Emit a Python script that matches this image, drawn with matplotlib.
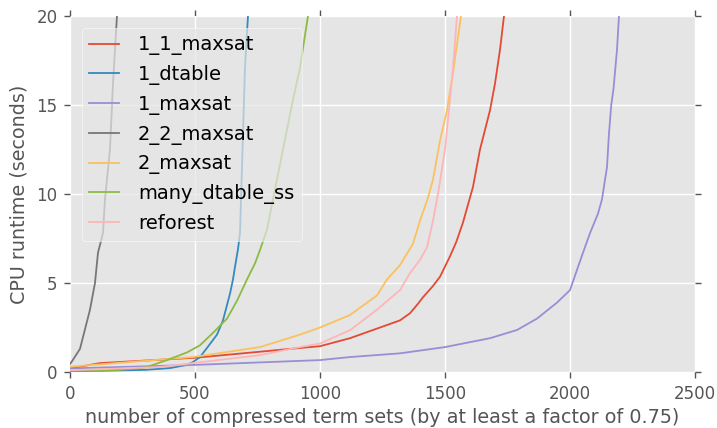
import numpy as np
import matplotlib
matplotlib.use("Agg")
import matplotlib.pyplot as plt

plt.style.use('ggplot')

names = ['1_1_maxsat', '1_dtable', '1_maxsat', '2_2_maxsat',
         '2_maxsat', 'many_dtable_ss', 'reforest']

# cactus curves: x = count, y = seconds
x_11maxsat = [0, 120, 500, 920, 1000, 1120, 1240, 1320, 1360, 1390, 1412, 1450,
              1480, 1520, 1545, 1572, 1612, 1640, 1680, 1700, 1720, 1736, 1745]
y_11maxsat = [0.2, 0.5, 0.8, 1.35, 1.45, 1.9, 2.5, 2.9, 3.3, 3.8, 4.2, 4.8,
              5.35, 6.5, 7.3, 8.4, 10.4, 12.5, 14.7, 16.2, 18.1, 20.0, 21.0]

x_dtable = [0, 160, 300, 400, 468, 492, 520, 548, 588, 612, 628, 640, 652,
            660, 672, 680, 688, 700, 712, 716]
y_dtable = [0.05, 0.08, 0.12, 0.22, 0.4, 0.56, 0.84, 1.35, 2.1, 2.9, 3.76, 4.4, 5.2,
            5.9, 6.9, 7.8, 11.5, 17.1, 20.0, 21.0]

x_1maxsat = [0, 500, 1000, 1120, 1320, 1500, 1680, 1788, 1868, 1948, 2000,
             2032, 2052, 2080, 2112, 2128, 2140, 2148, 2156, 2165, 2174,
             2188, 2196, 2200]
y_1maxsat = [0.2, 0.4, 0.67, 0.84, 1.05, 1.4, 1.9, 2.36, 3.0, 3.9, 4.6,
             5.9, 6.7, 7.8, 8.9, 9.7, 10.8, 11.5, 13.4, 15.0, 15.9,
             18.1, 20.0, 21.0]

x_22maxsat = [0, 8, 40, 60, 80, 100, 112, 132, 140, 160, 172, 188, 192]
y_22maxsat = [0.45, 0.6, 1.3, 2.4, 3.5, 5.0, 6.7, 7.8, 9.7, 12.5, 16.2, 20.0, 21.0]

x_2maxsat = [0, 92, 492, 760, 920, 1000, 1120, 1228, 1268, 1320, 1372, 1400,
             1430, 1452, 1480, 1508, 1532, 1564, 1570]
y_2maxsat = [0.3, 0.4, 0.84, 1.4, 2.1, 2.5, 3.2, 4.3, 5.2, 6.0, 7.2, 8.5,
             9.7, 10.8, 13.0, 14.7, 16.8, 20.0, 21.0]

x_many = [0, 200, 300, 332, 388, 468, 520, 572, 628, 668, 708, 740, 760, 788,
          812, 852, 892, 920, 952, 960]
y_many = [0.07, 0.12, 0.25, 0.4, 0.67, 1.1, 1.5, 2.2, 3.0, 4.0, 5.2, 6.1, 6.85, 8.0,
          9.7, 12.5, 15.3, 17.1, 20.0, 21.0]

x_reforest = [0, 360, 760, 920, 1000, 1120, 1228, 1320, 1360, 1400, 1428,
              1452, 1472, 1500, 1520, 1532, 1548, 1552]
y_reforest = [0.1, 0.28, 0.95, 1.4, 1.6, 2.35, 3.5, 4.6, 5.55, 6.3, 7.0,
              8.5, 10.0, 12.5, 15.3, 17.1, 20.0, 21.0]

series = [(x_11maxsat, y_11maxsat), (x_dtable, y_dtable), (x_1maxsat, y_1maxsat),
          (x_22maxsat, y_22maxsat), (x_2maxsat, y_2maxsat), (x_many, y_many),
          (x_reforest, y_reforest)]

fig = plt.figure(figsize=(7.17, 4.28), dpi=100)
ax = fig.add_axes([0.0976, 0.1308, 0.8717, 0.8318])

for name, (xs, ys) in zip(names, series):
    ax.plot(np.array(xs), np.array(ys), label=name, linewidth=1.3)

ax.set_xlim(0, 2500)
ax.set_ylim(0, 20)
ax.set_xticks([0, 500, 1000, 1500, 2000, 2500])
ax.set_yticks([0, 5, 10, 15, 20])
ax.tick_params(direction='out', top=True, right=True, length=4, width=1,
               colors='#555555', labelsize=12, pad=5)
ax.grid(True, color='white', linewidth=1)
for s in ax.spines.values():
    s.set_visible(False)

ax.set_xlabel('number of compressed term sets (by at least a factor of 0.75)',
              fontsize=13.8, color='#555555')
ax.set_ylabel('CPU runtime (seconds)', fontsize=13.8, color='#555555', labelpad=6)

leg = ax.legend(loc='upper left', fontsize=14, handlelength=1.5,
                handletextpad=1.0, borderaxespad=0.6, framealpha=0.7)
leg.get_frame().set_facecolor('#E5E5E5')
leg.get_frame().set_edgecolor('white')

fig.savefig('out.png', dpi=100)
